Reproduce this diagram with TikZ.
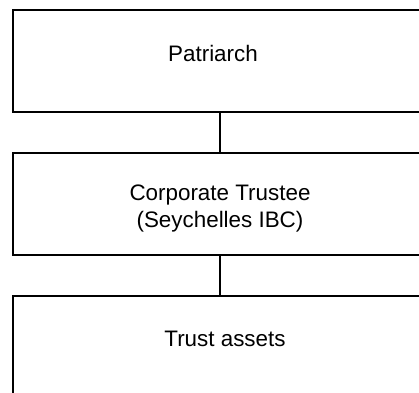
\documentclass[tikz,border=0pt]{standalone}
\usepackage{fontspec}
\setmainfont{Liberation Sans}
\begin{document}
\begin{tikzpicture}[x=1pt,y=1pt,
  boxstyle/.style={draw=black,line width=1.1pt,minimum width=414pt,minimum height=102pt,
    inner sep=0pt,align=center,font=\fontsize{22.4}{27}\selectfont},
  linkstyle/.style={draw=black,line width=1.1pt}]
\useasboundingbox (0,0) rectangle (419,392);
\node[boxstyle,text depth=16pt] (pat) at (220,331) {Patriarch\hspace*{14pt}};
\node[boxstyle] (ct) at (220,188) {\rule{0pt}{24.5pt}Corporate Trustee\\(Seychelles IBC)};
\node[boxstyle,text depth=17pt] (ta) at (220,45) {\hspace*{10pt}Trust assets};
\draw[linkstyle] (pat.south) -- (ct.north);
\draw[linkstyle] (ct.south) -- (ta.north);
\end{tikzpicture}
\end{document}
